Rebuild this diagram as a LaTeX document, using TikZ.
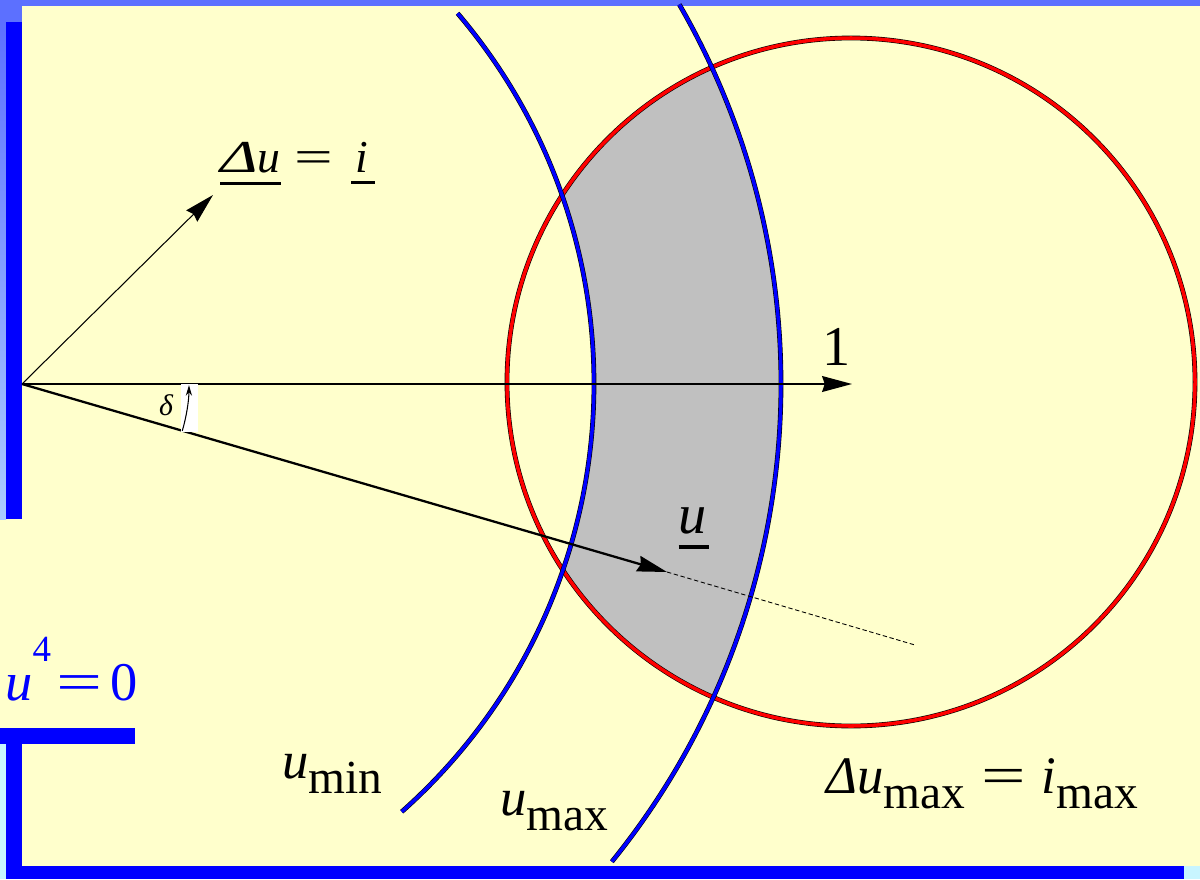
\documentclass[tikz,border=0pt]{standalone}
\usepackage{fontspec}
\setmainfont{Liberation Serif}
\usetikzlibrary{arrows.meta,calc}
\definecolor{paleyellow}{RGB}{255,255,204}
\definecolor{framelight}{RGB}{92,112,255}
\definecolor{framesky}{RGB}{170,205,255}
\definecolor{framecyan}{RGB}{200,245,255}
\definecolor{frameblue}{RGB}{0,0,255}
\definecolor{silvergray}{RGB}{192,192,192}
\newcommand{\ulvec}[1]{\leavevmode\vtop{\hbox{#1}\kern0.2em\hrule height 0.07em}}
\newcommand{\lowsub}[1]{\raisebox{-0.3em}{\fontsize{27}{32}\selectfont #1}}
\newcommand{\weq}{\scalebox{1.5}[1]{=}}

\tikzset{
  rimline/.style={draw=black, double=#1, double distance=2pt, line width=0.35pt},
  thinvec/.style={line width=0.6pt, -{Stealth[length=17pt,width=9pt,inset=1.5pt]}},
  axisvec/.style={line width=1.1pt, -{Stealth[length=17pt,width=9pt,inset=1.5pt]}},
  lbl/.style={inner sep=0pt, font=\fontsize{30}{34}\selectfont}
}

\begin{document}
\begin{tikzpicture}[x=0.02cm,y=-0.02cm]
    % background and frame
    \fill[paleyellow] (0,0) rectangle (1200,879);
    \fill[framelight] (0,0) rectangle (1200,6);
    \fill[framelight] (0,6) rectangle (22,22);
    \shade[top color=framelight, bottom color=framesky] (0,22) rectangle (6,519);
    \fill[frameblue] (6,22) rectangle (22,519);
    \fill[frameblue] (0,728) rectangle (135,744);
    \fill[framecyan] (0,744) rectangle (6,879);
    \fill[frameblue] (6,744) rectangle (22,879);
    \fill[frameblue] (22,866) rectangle (1184,879);
    \fill[framecyan] (1184,866) rectangle (1200,879);

    % points
    \coordinate (O) at (22,384);
    \coordinate (C) at (851,382);
    \coordinate (ax) at (852,384);
    \coordinate (du) at (213,195);
    \coordinate (ut) at (667,572);
    \coordinate (ue) at (915,645);

    % admissible region
    \begin{scope}
        \clip (C) circle[radius=344];
        \fill[silvergray, even odd rule] (O) circle[radius=759] (O) circle[radius=572];
    \end{scope}

    % current limit circle
    \draw[rimline=red] (C) circle[radius=344];

    % voltage limits
    \draw[rimline=blue] ($(O)+(-40.4:572)$) arc[start angle=-40.4, end angle=48.4, radius=572];
    \draw[rimline=blue] ($(O)+(-30.0:759)$) arc[start angle=-30.0, end angle=39.0, radius=759];

    % vectors
    \draw[axisvec] (O) -- (ax);
    \draw[thinvec] (O) -- (du);
    \draw[axisvec, line width=1.3pt] (O) -- (ut);
    \draw[line width=0.5pt, dash pattern=on 2.5pt off 1.5pt] (ut) -- (ue);

    % angle delta
    \fill[white] (181,384) rectangle (198,432);
    \draw[line width=0.6pt, -{Stealth[length=6pt,width=3.5pt]}] ($(O)+(16.3:167)$) arc[start angle=16.3, end angle=0.4, radius=167];
    \node[inner sep=0pt, font=\fontsize{17}{20}\selectfont\itshape] (delta) at (166,405) {δ};

    % labels
    \node[lbl, anchor=base west, font=\fontsize{26}{30}\selectfont] (dulbl) at (220,172)
        {\ulvec{\itshape\scalebox{1.4}[1]{Δ}u}\hspace{0.3em}\weq\hspace{0.4em}\ulvec{\kern0.1em\itshape i\kern0.15em}};
    \node[lbl, anchor=base, font=\fontsize{32}{36}\selectfont] (one) at (837,365) {1};
    \node[lbl, anchor=base, font=\fontsize{32}{36}\selectfont] (ulbl) at (694,533) {\ulvec{\itshape u\kern0.05em}};
    \node[lbl, anchor=base west] (umin) at (282,778) {\itshape u\upshape\lowsub{min}};
    \node[lbl, anchor=base west] (umax) at (500,815) {\itshape u\upshape\lowsub{max}};
    \node[lbl, anchor=base west] (dumax) at (826,793)
        {\itshape Δu\upshape\lowsub{max}\hspace{0.3em}\weq\hspace{0.3em}\itshape i\upshape\lowsub{max}};
    \node[lbl, anchor=base west, text=frameblue, font=\fontsize{31}{36}\selectfont] (ufour) at (5,700)
        {\itshape u\upshape\raisebox{0.7em}{\fontsize{21}{26}\selectfont 4}\hspace{0.1em}\weq\hspace{0.15em}0};
\end{tikzpicture}
\end{document}
